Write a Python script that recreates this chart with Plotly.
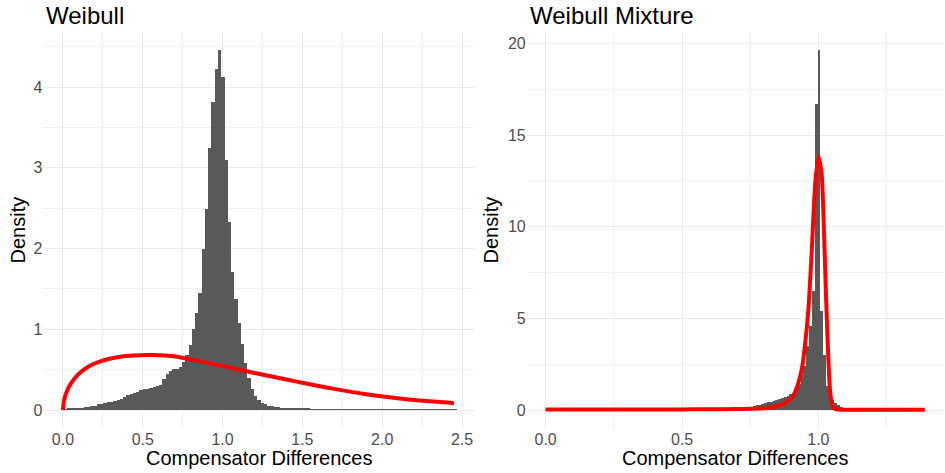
import numpy as np
import plotly.graph_objects as go

# ---------------- data ----------------
# Left panel: histogram of compensator differences (density), bins centred at i * width
weibull_bin_width = 0.0205
weibull_hist_density = [
    0.005, 0.010, 0.015, 0.018, 0.022, 0.027, 0.030, 0.035, 0.040, 0.045,
    0.055, 0.070, 0.078, 0.090, 0.100, 0.105, 0.115, 0.125, 0.140, 0.160,
    0.185, 0.200, 0.210, 0.225, 0.245, 0.255, 0.265, 0.270, 0.290, 0.300,
    0.310, 0.390, 0.440, 0.480, 0.510, 0.510, 0.530, 0.590, 0.680, 0.800,
    1.000, 1.200, 1.450, 2.000, 2.490, 3.250, 3.810, 4.230, 4.460, 4.120,
    3.100, 2.330, 1.710, 1.380, 1.080, 0.820, 0.580, 0.400, 0.260, 0.170,
    0.120, 0.090, 0.070, 0.055, 0.045, 0.040, 0.035, 0.030, 0.027, 0.024,
    0.020, 0.018, 0.016, 0.015, 0.014, 0.013, 0.012, 0.012, 0.011, 0.010,
    0.010, 0.009, 0.008, 0.008, 0.007, 0.007, 0.007, 0.006, 0.006, 0.006,
    0.005, 0.005, 0.005, 0.004, 0.005, 0.004, 0.004, 0.004, 0.003, 0.004,
    0.003, 0.003, 0.004, 0.003, 0.003, 0.003, 0.002, 0.003, 0.003, 0.002,
    0.002, 0.003, 0.002, 0.002, 0.002, 0.002, 0.002, 0.002, 0.002, 0.002,
    0.002,
]
# Left panel: fitted Weibull density (red line)
weibull_fit_x = [0.00, 0.005, 0.02, 0.05, 0.10, 0.16, 0.23, 0.33, 0.44, 0.57,
                 0.69, 0.80, 0.90, 1.00, 1.15, 1.27, 1.48, 1.69, 1.90, 2.11,
                 2.32, 2.45]
weibull_fit_y = [0.00, 0.10, 0.21, 0.33, 0.45, 0.54, 0.60, 0.65, 0.675, 0.68,
                 0.665, 0.625, 0.585, 0.545, 0.48, 0.43, 0.345, 0.265, 0.195, 0.142,
                 0.104, 0.085]

# Right panel: histogram (density), bins centred at i * width
mixture_bin_width = 0.01032
mixture_hist_density = (
    [0.02, 0.02, 0.02, 0.02, 0.02, 0.02, 0.02, 0.02, 0.02, 0.02,
     0.02, 0.02, 0.02, 0.02, 0.02, 0.02, 0.02, 0.02, 0.02, 0.02,
     0.02, 0.02, 0.02, 0.02, 0.02, 0.02, 0.02, 0.02, 0.02, 0.02,
     0.02, 0.02, 0.02, 0.02, 0.02, 0.02, 0.02, 0.02, 0.02, 0.02,
     0.03, 0.03, 0.03, 0.03, 0.03, 0.03, 0.03, 0.03, 0.03, 0.03,
     0.03, 0.03, 0.03, 0.03, 0.03, 0.03, 0.04, 0.04, 0.04, 0.04,
     0.04, 0.04, 0.05, 0.05, 0.05, 0.05, 0.06,
     0.05, 0.06, 0.08, 0.10, 0.12, 0.15, 0.18, 0.22, 0.25, 0.28,
     0.33, 0.38, 0.42, 0.45, 0.50, 0.55, 0.60, 0.65, 0.70, 0.78,
     0.85, 0.95, 1.10, 1.40, 1.90, 2.40, 3.50, 4.60, 6.50, 16.70,
     19.65,
     5.40, 3.00, 1.30, 0.75, 0.55, 0.40, 0.28, 0.18, 0.12, 0.08,
     0.05, 0.03, 0.02, 0.01, 0.01, 0.01, 0.005, 0.005, 0.005, 0.005,
     0.004, 0.004, 0.003, 0.003, 0.003, 0.002, 0.002, 0.002, 0.002, 0.002,
     0.002, 0.002, 0.002, 0.002, 0.002, 0.002, 0.002]
)
# Right panel: fitted Weibull mixture density (red line)
mixture_fit_x = [0.00, 0.10, 0.20, 0.30, 0.40, 0.50, 0.60, 0.70, 0.75, 0.80,
                 0.84, 0.87, 0.89, 0.91, 0.925, 0.94, 0.952, 0.964, 0.976, 0.988,
                 1.000, 1.012, 1.020, 1.028, 1.036, 1.042, 1.048, 1.055, 1.065, 1.08,
                 1.10, 1.20, 1.30, 1.39]
mixture_fit_y = [0.03, 0.03, 0.03, 0.03, 0.03, 0.03, 0.04, 0.05, 0.07, 0.10,
                 0.18, 0.32, 0.50, 0.85, 1.40, 2.30, 3.70, 5.60, 8.80, 12.30,
                 13.85, 12.90, 10.00, 6.20, 3.00, 1.20, 0.45, 0.12, 0.04, 0.02,
                 0.01, 0.01, 0.01, 0.01]

left_x_ticks = [0.0, 0.5, 1.0, 1.5, 2.0, 2.5]
left_x_labels = ["0.0", "0.5", "1.0", "1.5", "2.0", "2.5"]
left_y_ticks = [0, 1, 2, 3, 4]
right_x_ticks = [0.0, 0.5, 1.0]
right_x_labels = ["0.0", "0.5", "1.0"]
right_y_ticks = [0, 5, 10, 15, 20]

panel_titles = ["Weibull", "Weibull Mixture"]
x_title = "Compensator Differences"
y_title = "Density"

# ---------------- figure ----------------
W, H = 945, 473
FONT = "Liberation Sans, Arial, sans-serif"
BAR_COLOR = "#595959"
GRID = "#EBEBEB"

left_centers = np.arange(len(weibull_hist_density)) * weibull_bin_width
right_centers = np.arange(len(mixture_hist_density)) * mixture_bin_width

fig = go.Figure()
fig.add_trace(go.Bar(x=left_centers, y=weibull_hist_density, width=weibull_bin_width,
                     marker=dict(color=BAR_COLOR, line=dict(width=0)),
                     xaxis="x", yaxis="y", showlegend=False, hoverinfo="skip"))
fig.add_trace(go.Scatter(x=weibull_fit_x, y=weibull_fit_y, mode="lines",
                         line=dict(color="#FF0000", width=4, shape="spline", smoothing=1.0),
                         xaxis="x", yaxis="y", showlegend=False))
fig.add_trace(go.Bar(x=right_centers, y=mixture_hist_density, width=mixture_bin_width,
                     marker=dict(color=BAR_COLOR, line=dict(width=0)),
                     xaxis="x2", yaxis="y2", showlegend=False, hoverinfo="skip"))
fig.add_trace(go.Scatter(x=mixture_fit_x, y=mixture_fit_y, mode="lines",
                         line=dict(color="#FF0000", width=4, shape="spline", smoothing=0.5),
                         xaxis="x2", yaxis="y2", showlegend=False))


def px_x(p):
    return p / W


def px_y(p):
    return (H - p) / H


y_dom = [px_y(428), px_y(32)]
left_dom = [px_x(43.4), px_x(473.6)]
right_dom = [px_x(526.7), px_x(943.7)]

tick_font = dict(family=FONT, size=16, color="#4D4D4D")
common = dict(showline=False, zeroline=False, ticks="", showgrid=True,
              gridcolor=GRID, gridwidth=1.1, automargin=False, tickfont=tick_font,
              fixedrange=True)

left_ymax = max(weibull_hist_density)
right_ymax = max(mixture_hist_density)
left_xmax = max(weibull_fit_x)
right_xmax = max(mixture_fit_x)

fig.update_layout(
    width=W, height=H,
    margin=dict(l=0, r=0, t=0, b=0),
    paper_bgcolor="white", plot_bgcolor="white",
    bargap=0, barmode="overlay",
    xaxis=dict(domain=left_dom, anchor="y",
               range=[-0.05 * left_xmax, 1.05 * left_xmax],
               tickvals=left_x_ticks, ticktext=left_x_labels,
               minor=dict(dtick=0.25, tick0=0, showgrid=True, gridcolor="#F0F0F0", gridwidth=0.8),
               **common),
    yaxis=dict(domain=y_dom, anchor="x",
               range=[-0.05 * left_ymax, 1.05 * left_ymax],
               tickvals=left_y_ticks,
               minor=dict(dtick=0.5, tick0=0, showgrid=True, gridcolor="#F0F0F0", gridwidth=0.8),
               **common),
    xaxis2=dict(domain=right_dom, anchor="y2",
                range=[-0.05 * right_xmax, 1.05 * right_xmax],
                tickvals=right_x_ticks, ticktext=right_x_labels,
                minor=dict(dtick=0.25, tick0=0, showgrid=True, gridcolor="#F0F0F0", gridwidth=0.8),
                **common),
    yaxis2=dict(domain=y_dom, anchor="x2",
                range=[-0.05 * right_ymax, 1.05 * right_ymax],
                tickvals=right_y_ticks,
                minor=dict(dtick=2.5, tick0=0, showgrid=True, gridcolor="#F0F0F0", gridwidth=0.8),
                **common),
)

ann = []
for title, xl in zip(panel_titles, [44, 527.5]):
    ann.append(dict(text=title, x=px_x(xl), y=px_y(15), xref="paper", yref="paper",
                    xanchor="left", yanchor="middle", showarrow=False,
                    font=dict(family=FONT, size=24, color="black")))
for xc in [(43.4 + 473.6) / 2, (526.7 + 943.7) / 2]:
    ann.append(dict(text=x_title, x=px_x(xc), y=px_y(458), xref="paper", yref="paper",
                    xanchor="center", yanchor="middle", showarrow=False,
                    font=dict(family=FONT, size=20, color="black")))
for xc in [17.5, 490.5]:
    ann.append(dict(text=y_title, x=px_x(xc), y=px_y(230), xref="paper", yref="paper",
                    xanchor="center", yanchor="middle", textangle=-90, showarrow=False,
                    font=dict(family=FONT, size=20, color="black")))
fig.update_layout(annotations=ann)

fig.write_html("out.html")
